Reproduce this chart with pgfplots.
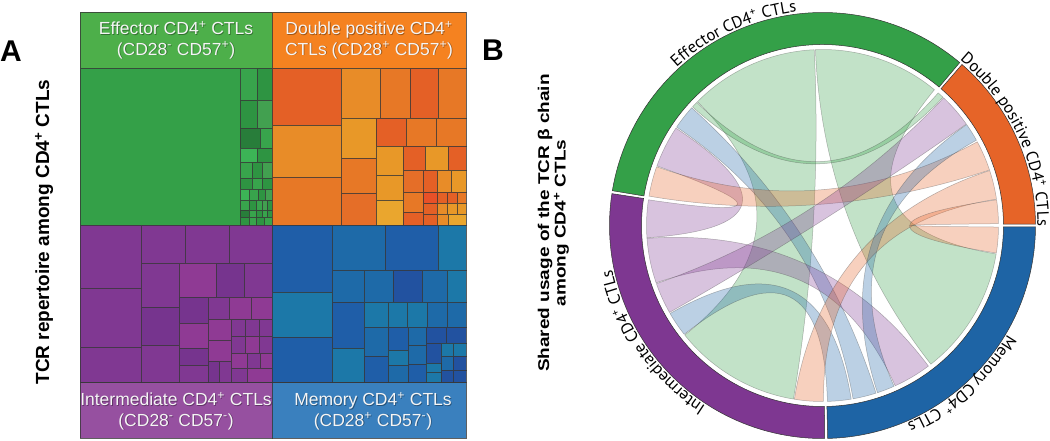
\documentclass[border=0pt]{standalone}
\usepackage{fontspec}
\setmainfont{Liberation Sans}
\newfontfamily\ptsans{PT Sans}
\usepackage{pgfplots}
\pgfplotsset{compat=1.18}
\usetikzlibrary{calc,decorations.text}

% treemap colours
\definecolor{gHead}{RGB}{77,175,74}
\definecolor{gBig}{RGB}{52,160,72}
\definecolor{gA}{RGB}{56,164,76}
\definecolor{gB}{RGB}{46,148,66}
\definecolor{gC}{RGB}{66,160,80}
\definecolor{gD}{RGB}{40,125,58}
\definecolor{gE}{RGB}{60,180,86}
\definecolor{oHead}{RGB}{245,130,32}
\definecolor{oR}{RGB}{228,96,38}
\definecolor{oRR}{RGB}{232,80,40}
\definecolor{oM}{RGB}{231,120,38}
\definecolor{oM2}{RGB}{229,110,40}
\definecolor{oL}{RGB}{232,140,40}
\definecolor{oA}{RGB}{232,152,40}
\definecolor{oA2}{RGB}{234,166,46}
\definecolor{pHead}{RGB}{150,80,160}
\definecolor{pA}{RGB}{128,56,146}
\definecolor{pD}{RGB}{118,52,142}
\definecolor{pP}{RGB}{143,58,148}
\definecolor{bHead}{RGB}{58,128,190}
\definecolor{bA}{RGB}{31,94,168}
\definecolor{bM}{RGB}{30,106,168}
\definecolor{bT}{RGB}{28,120,168}
\definecolor{bD}{RGB}{34,82,160}
\definecolor{tmline}{RGB}{55,55,55}
% chord colours
\definecolor{cG}{RGB}{52,160,72}
\definecolor{cO}{RGB}{230,100,40}
\definecolor{cB}{RGB}{30,100,165}
\definecolor{cP}{RGB}{126,55,145}

\newcommand{\R}[5]{\addplot[fill=#5,draw=tmline,draw opacity=0.8,line width=0.6pt] coordinates {(#1,#2) (#3,#2) (#3,#4) (#1,#4)} -- cycle;}
\newcommand{\chord}[5]{%
 \path[fill=#5, fill opacity=0.3, draw=black!70, draw opacity=0.4, line width=0.5pt]
 ($(C)+(#1:176pt)$) arc[start angle=#1, end angle=#2, radius=176pt]
 .. controls ($(C)+(#2:58.7pt)$) and ($(C)+(#3:58.7pt)$) .. ($(C)+(#3:176pt)$)
 arc[start angle=#3, end angle=#4, radius=176pt]
 .. controls ($(C)+(#4:58.7pt)$) and ($(C)+(#1:58.7pt)$) .. cycle;}
\newcommand{\seg}[3]{\path[fill=#3, draw=black!80, line width=0.5pt] ($(C)+(#1:213pt)$) arc[start angle=#1,end angle=#2,radius=213pt] -- ($(C)+(#2:181pt)$) arc[start angle=#2,end angle=#1,radius=181pt] -- cycle;}
\newcommand{\hd}{\fontsize{17.5}{20.5}\selectfont}
\newcommand{\lab}{\ptsans\fontsize{16.6}{19}\selectfont}
\newcommand{\hdtext}[3]{%
 \node[text=black,opacity=0.35,align=center,font=\hd] at (axis cs:#1+0.8,#2+0.8) {#3};
 \node[text=white!96!black,align=center,font=\hd] at (axis cs:#1,#2) {#3};}

\begin{document}
\begin{tikzpicture}
\begin{axis}[width=1050pt,height=440pt,scale only axis,
  xmin=0,xmax=1050,ymin=0,ymax=440,y dir=reverse,
  hide axis,clip=false]
% ---------- Panel A: treemap ----------
% headers
\R{80}{12}{272}{68}{gHead}
\R{272}{12}{466}{68}{oHead}
\R{80}{382}{272}{438}{pHead}
\R{272}{382}{466}{438}{bHead}
% green quadrant
\R{80}{68}{240}{225}{gBig}
\R{240}{68}{257}{100}{gA} \R{257}{68}{272}{100}{gB}
\R{240}{100}{257}{128}{gB} \R{257}{100}{272}{128}{gC}
\R{240}{128}{260}{148}{gD} \R{260}{128}{272}{148}{gA}
\R{240}{148}{257}{162}{gE} \R{257}{148}{272}{162}{gB}
\R{240}{162}{252}{178}{gA} \R{252}{162}{262}{178}{gB} \R{262}{162}{272}{178}{gC}
\R{240}{178}{252}{189}{gB} \R{252}{178}{262}{189}{gA} \R{262}{178}{272}{189}{gB}
\R{240}{189}{249}{200}{gE} \R{249}{189}{258}{200}{gA} \R{258}{189}{265}{200}{gB} \R{265}{189}{272}{200}{gC}
\R{240}{200}{249}{210}{gA} \R{249}{200}{256}{210}{gB} \R{256}{200}{262}{210}{gA} \R{262}{200}{267}{210}{gC} \R{267}{200}{272}{210}{gB}
\R{240}{210}{249}{217}{gD} \R{249}{210}{256}{217}{gA} \R{256}{210}{262}{217}{gB} \R{262}{210}{267}{217}{gA} \R{267}{210}{272}{217}{gB}
\R{240}{217}{249}{225}{gB} \R{249}{217}{256}{225}{gA} \R{256}{217}{264}{225}{gB} \R{264}{217}{272}{225}{gA}
% orange quadrant
\R{272}{68}{341}{125}{oR}
\R{272}{125}{341}{177}{oL}
\R{272}{177}{341}{225}{oM}
\R{341}{68}{380}{118}{oL}
\R{380}{68}{410}{118}{oM}
\R{410}{68}{438}{118}{oR}
\R{438}{68}{466}{118}{oM}
\R{341}{118}{376}{158}{oA}
\R{341}{158}{376}{193}{oM}
\R{341}{193}{376}{225}{oM2}
\R{376}{118}{406}{146}{oR}
\R{406}{118}{436}{146}{oM}
\R{436}{118}{466}{146}{oM}
\R{376}{146}{403}{175}{oA}
\R{376}{175}{403}{200}{oA}
\R{376}{200}{403}{225}{oA2}
\R{403}{146}{425}{170}{oR}
\R{425}{146}{448}{170}{oA}
\R{448}{146}{466}{170}{oR}
\R{403}{170}{423}{192}{oM2}
\R{423}{170}{437}{192}{oR}
\R{437}{170}{451}{192}{oL}
\R{451}{170}{466}{192}{oA}
\R{403}{192}{423}{212}{oM}
\R{403}{212}{423}{225}{oR}
\R{423}{192}{437}{203}{oRR}
\R{437}{192}{447}{203}{oR}
\R{447}{192}{457}{203}{oR}
\R{457}{192}{466}{203}{oM}
\R{423}{203}{437}{214}{oR}
\R{437}{203}{447}{214}{oL}
\R{447}{203}{457}{214}{oA}
\R{457}{203}{466}{214}{oA}
\R{423}{214}{437}{225}{oR}
\R{437}{214}{448}{225}{oL}
\R{448}{214}{466}{225}{oA2}
% purple quadrant
\R{80}{225}{141}{288}{pA}
\R{80}{288}{141}{347}{pA}
\R{80}{347}{141}{382}{pA}
\R{141}{225}{185}{263}{pA}
\R{185}{225}{229}{263}{pA}
\R{229}{225}{272}{263}{pA}
\R{141}{263}{179}{307}{pA}
\R{141}{307}{179}{345}{pD}
\R{141}{345}{179}{382}{pA}
\R{179}{263}{216}{297}{pP}
\R{216}{263}{244}{297}{pD}
\R{244}{263}{272}{297}{pA}
\R{179}{297}{208}{323}{pD}
\R{179}{323}{208}{348}{pP}
\R{179}{348}{208}{365}{pD}
\R{179}{365}{208}{382}{pA}
\R{208}{297}{229}{319}{pA}
\R{229}{297}{251}{319}{pP}
\R{251}{297}{272}{319}{pP}
\R{208}{319}{231}{340}{pP}
\R{208}{340}{231}{361}{pP}
\R{208}{361}{219}{382}{pD}
\R{219}{361}{231}{382}{pA}
\R{231}{319}{245}{336}{pA}
\R{245}{319}{259}{336}{pA}
\R{259}{319}{272}{336}{pA}
\R{231}{336}{245}{353}{pA}
\R{245}{336}{259}{353}{pP}
\R{259}{336}{272}{353}{pA}
\R{231}{353}{247}{368}{pP}
\R{247}{353}{260}{368}{pA}
\R{260}{353}{272}{368}{pP}
\R{231}{368}{247}{382}{pA}
\R{247}{368}{272}{382}{pP}
% blue quadrant
\R{272}{225}{332}{292}{bA}
\R{272}{292}{332}{337}{bT}
\R{272}{337}{332}{382}{bA}
\R{332}{225}{385}{270}{bM}
\R{385}{225}{438}{270}{bA}
\R{438}{225}{466}{270}{bT}
\R{332}{270}{364}{302}{bM}
\R{364}{270}{393}{302}{bM}
\R{393}{270}{422}{302}{bD}
\R{422}{270}{447}{302}{bM}
\R{447}{270}{466}{302}{bT}
\R{332}{302}{364}{348}{bA}
\R{332}{348}{364}{382}{bT}
\R{364}{302}{388}{327}{bT}
\R{388}{302}{407}{327}{bT}
\R{407}{302}{427}{327}{bT}
\R{427}{302}{447}{327}{bM}
\R{447}{302}{466}{327}{bM}
\R{364}{327}{388}{356}{bM}
\R{364}{356}{388}{382}{bA}
\R{388}{327}{408}{350}{bA}
\R{388}{350}{408}{365}{bT}
\R{388}{365}{408}{382}{bM}
\R{408}{327}{426}{345}{bM}
\R{408}{345}{426}{364}{bM}
\R{408}{364}{426}{382}{bA}
\R{426}{327}{446}{343}{bD}
\R{446}{327}{466}{343}{bD}
\R{426}{343}{441}{363}{bD}
\R{441}{343}{453}{356}{bT}
\R{453}{343}{466}{356}{bT}
\R{441}{356}{453}{370}{bM}
\R{453}{356}{466}{370}{bD}
\R{426}{363}{441}{372}{bT}
\R{426}{372}{441}{382}{bT}
\R{441}{370}{453}{382}{bD}
\R{453}{370}{466}{382}{bD}
% header texts
\hdtext{176}{40}{Effector CD4\textsuperscript{+} CTLs\\(CD28\textsuperscript{-} CD57\textsuperscript{+})}
\hdtext{369}{40}{Double positive CD4\textsuperscript{+}\\CTLs (CD28\textsuperscript{+} CD57\textsuperscript{+})}
\hdtext{176}{411}{Intermediate CD4\textsuperscript{+} CTLs\\(CD28\textsuperscript{-} CD57\textsuperscript{-})}
\hdtext{373}{411}{Memory CD4\textsuperscript{+} CTLs\\(CD28\textsuperscript{+} CD57\textsuperscript{-})}
% panel labels
\node[font=\fontsize{30}{32}\selectfont\bfseries] at (axis cs:11,51) {A};
\node[font=\fontsize{30}{32}\selectfont\bfseries] at (axis cs:493,50) {B};
\node[rotate=90,font=\fontsize{19}{22}\selectfont\bfseries] at (axis cs:44,232) {TCR repertoire among CD4\textsuperscript{+} CTLs};
\node[rotate=90] at (axis cs:554,223) {\scalebox{1}[0.82]{\fontsize{19}{20}\selectfont\bfseries\begin{tabular}{@{}c@{}}Shared usage of the TCR β chain\\among CD4\textsuperscript{+} CTLs\end{tabular}}};
% ---------- Panel B: chord diagram ----------
\coordinate (C) at (axis cs:822.5,225.5);
\seg{0.4}{49.1}{cO}
\seg{49.9}{170.6}{cG}
\seg{171.4}{270.6}{cP}
\seg{-88.6}{-0.4}{cB}
\chord{50.5}{92.3}{-52}{-9.3}{cG}
\chord{92.7}{135.3}{218.5}{260.5}{cG}
\chord{135.6}{137.6}{46.8}{48.9}{cG}
\chord{138}{146}{-80}{-72.3}{cB}
\chord{146.4}{160.2}{171.6}{184}{cP}
\chord{160.5}{170.4}{18.4}{28.4}{cO}
\chord{184.2}{199}{-65.6}{-53}{cP}
\chord{199.3}{209.6}{35.2}{46.5}{cP}
\chord{210}{218.2}{-88.4}{-80.6}{cB}
\chord{260.8}{270.3}{8.6}{18.2}{cO}
\chord{-71.8}{-66}{29}{35}{cB}
\chord{-9}{-0.5}{0.6}{8.4}{cO}
\end{axis}
% ring labels
\path[decorate,decoration={text along path,text align=center,text={|\lab|Effector CD4{\textsuperscript{+}} CTLs}}]
  ($(C)+(165:215pt)$) arc[start angle=165,end angle=64.6,radius=215pt];
\path[decorate,decoration={text along path,text align=center,text={|\lab|Double positive CD4{\textsuperscript{+}} CTLs}}]
  ($(C)+(72:215pt)$) arc[start angle=72,end angle=-22,radius=215pt];
\path[decorate,decoration={text along path,text align=center,text={|\lab|Memory CD4{\textsuperscript{+}} CTLs}}]
  ($(C)+(1:215pt)$) arc[start angle=1,end angle=-98.4,radius=215pt];
\path[decorate,decoration={text along path,text align=center,text={|\lab|Intermediate CD4{\textsuperscript{+}} CTLs}}]
  ($(C)+(262:215pt)$) arc[start angle=262,end angle=167,radius=215pt];
\pgfresetboundingbox
\path[use as bounding box] (0,0) rectangle (1050pt,440pt);
\end{tikzpicture}
\end{document}
